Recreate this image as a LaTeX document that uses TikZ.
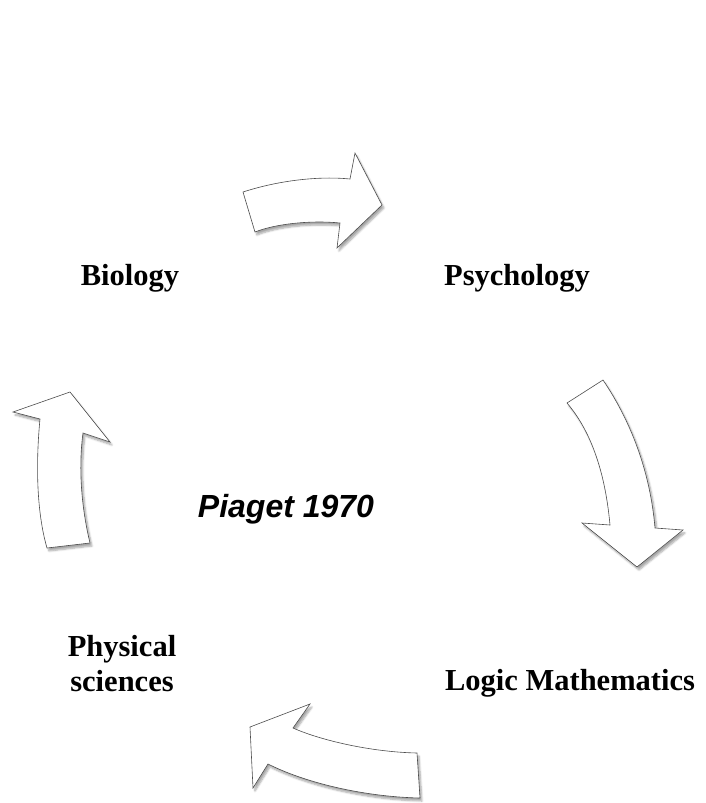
\documentclass[tikz,border=0pt]{standalone}
\usepackage{fontspec}
\setmainfont{Liberation Serif}
\newfontfamily\piagetfont{Liberation Sans}
\usetikzlibrary{shadows.blur}

\begin{document}
\begin{tikzpicture}[
    x=1pt, y=-1pt,
    blk/.style={draw=black!70, line width=0.6pt, fill=white, line join=miter,
        blur shadow={shadow xshift=2pt, shadow yshift=-3pt, shadow blur steps=6, shadow opacity=35}},
    lbl/.style={font=\fontsize{30.5}{35}\selectfont\bfseries, inner sep=0pt, align=center},
    ttl/.style={font=\piagetfont\fontsize{32}{38}\selectfont\bfseries\itshape, inner sep=0pt}
]
    \useasboundingbox (0,0) rectangle (705,803);

    % Labels
    \node[lbl, anchor=base] (bio) at (130,285) {Biology};
    \node[lbl, anchor=base] (psy) at (517,285) {Psychology};
    \node[lbl] (phys) at (122,664) {Physical\\sciences};
    \node[lbl, anchor=base] (logic) at (570,690) {Logic Mathematics};
    \node[ttl, anchor=base] (piaget) at (286,517) {Piaget 1970};

    % Biology -> Psychology
    \path[blk] (243,192) .. controls (280,180) and (320,176) .. (350,179)
        -- (355,153) -- (382,205) -- (337,248) -- (340,223)
        .. controls (310,220) and (275,224) .. (255,232) -- cycle;

    % Psychology -> Logic Mathematics
    \path[blk] (567,403) -- (603,380)
        .. controls (630,420) and (650,470) .. (655,528)
        -- (683,530) -- (637,567) -- (582,523) -- (610,525)
        .. controls (605,470) and (590,430) .. cycle;

    % Logic Mathematics -> Physical sciences
    \path[blk] (420,798) .. controls (370,797) and (310,785) .. (268,764)
        -- (253,788) -- (250,727) -- (310,704) -- (293,728)
        .. controls (320,740) and (370,752) .. (417,753) -- cycle;

    % Physical sciences -> Biology
    \path[blk] (47,548) .. controls (36,510) and (36,460) .. (40,419)
        -- (13,412) -- (70,392) -- (110,442) -- (83,433)
        .. controls (78,470) and (82,510) .. (90,543) -- cycle;

\end{tikzpicture}
\end{document}
